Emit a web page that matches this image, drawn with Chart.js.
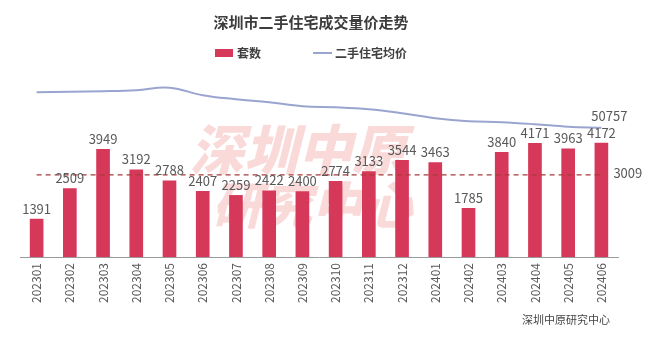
<!DOCTYPE html>
<html lang="zh">
<head>
  <meta charset="UTF-8">
  <title>深圳市二手住宅成交量价走势</title>
  <script src="https://cdn.jsdelivr.net/npm/chart.js"></script>
  <style>
    body { margin: 0; background: #fff; }
    #wrap { width: 656px; height: 344px; }
  </style>
</head>
<body>
<div id="wrap"><canvas id="chart" width="656" height="344"></canvas></div>
<script>
const months = ['202301','202302','202303','202304','202305','202306','202307','202308','202309',
                '202310','202311','202312','202401','202402','202403','202404','202405','202406'];
const deals = [1391, 2509, 3949, 3192, 2788, 2407, 2259, 2422, 2400, 2774, 3133, 3544, 3463, 1785, 3840, 4171, 3963, 4172];
// 均价只标了最后一个值，其余按图上位置估计
const avgPrice = [57860, 57960, 58060, 58260, 58760, 57260, 56460, 55860, 55060, 54860, 54460, 53660,
                  52660, 52060, 51860, 51460, 50960, 50757];
const dealsMean = 3009;
const meanLine = months.map(() => dealsMean);

const FONT = '"Noto Sans CJK SC", "Noto Sans", sans-serif';
const TEXT = '#595959';

// title, legend, watermark, source and value labels
const decor = {
  id: 'decor',
  beforeDatasetsDraw(chart) {
    const ctx = chart.ctx;
    ctx.save();
    ctx.fillStyle = 'rgba(238,120,120,0.28)';
    ctx.font = 'italic 900 54px ' + FONT;
    ctx.textBaseline = 'alphabetic';
    ctx.textAlign = 'left';
    ctx.fillText('深圳中原', 190, 170);
    ctx.font = 'italic 900 50px ' + FONT;
    ctx.fillText('研究中心', 212, 224);
    ctx.restore();
  },
  afterDraw(chart) {
    const ctx = chart.ctx;
    ctx.save();
    // title
    ctx.fillStyle = '#3d3d3d';
    ctx.font = 'bold 15px ' + FONT;
    ctx.textAlign = 'center';
    ctx.textBaseline = 'middle';
    ctx.fillText('深圳市二手住宅成交量价走势', 311, 22);
    // legend
    ctx.fillStyle = '#d6385a';
    ctx.fillRect(215, 49, 18, 8);
    ctx.strokeStyle = '#9aa5cf';
    ctx.lineWidth = 2;
    ctx.beginPath(); ctx.moveTo(313, 53); ctx.lineTo(332, 53); ctx.stroke();
    ctx.fillStyle = '#404040';
    ctx.font = 'bold 12px ' + FONT;
    ctx.textAlign = 'left';
    ctx.fillText('套数', 237, 53);
    ctx.fillText('二手住宅均价', 335, 53);
    // bar values
    ctx.fillStyle = TEXT;
    ctx.font = '13px ' + FONT;
    ctx.textAlign = 'center';
    ctx.textBaseline = 'bottom';
    const bars = chart.getDatasetMeta(1).data;
    bars.forEach((b, i) => ctx.fillText(deals[i], b.x, b.y - 4));
    // last price value
    const pts = chart.getDatasetMeta(0).data;
    const last = pts[pts.length - 1];
    ctx.fillText(avgPrice[avgPrice.length - 1], last.x + 8, last.y - 5);
    // mean value
    const mpts = chart.getDatasetMeta(2).data;
    const m = mpts[mpts.length - 1];
    ctx.textAlign = 'left';
    ctx.textBaseline = 'middle';
    ctx.fillText(dealsMean, m.x + 12, m.y - 2);
    // source
    ctx.fillStyle = '#444';
    ctx.font = '11px ' + FONT;
    ctx.textAlign = 'right';
    ctx.fillText('深圳中原研究中心', 610, 320);
    ctx.restore();
  }
};

new Chart(document.getElementById('chart'), {
  data: {
    labels: months,
    datasets: [
      {
        type: 'line', label: '二手住宅均价', data: avgPrice, yAxisID: 'yPrice',
        borderColor: '#9aa5cf', borderWidth: 2, pointRadius: 0, tension: 0.4, order: 0
      },
      {
        type: 'bar', label: '套数', data: deals, yAxisID: 'y',
        backgroundColor: '#d6385a', barThickness: 13, order: 2
      },
      {
        type: 'line', label: '均值', data: meanLine, yAxisID: 'y',
        borderColor: '#a83a3a', borderWidth: 1.2, borderDash: [5, 4], pointRadius: 0, order: 1
      }
    ]
  },
  options: {
    responsive: false,
    animation: false,
    layout: { padding: { left: 20, right: 38, top: 66, bottom: 35 } },
    plugins: { legend: { display: false }, title: { display: false }, tooltip: { enabled: false } },
    scales: {
      x: {
        grid: { display: false, drawTicks: false },
        border: { display: true, color: '#9a9a9a' },
        ticks: { minRotation: 90, maxRotation: 90, padding: 6, color: TEXT, font: { size: 12, family: FONT } }
      },
      y: { display: false, min: 0, max: 7000 },
      yPrice: { display: false, min: 24900, max: 63100 }
    }
  },
  plugins: [decor]
});
</script>
</body>
</html>
